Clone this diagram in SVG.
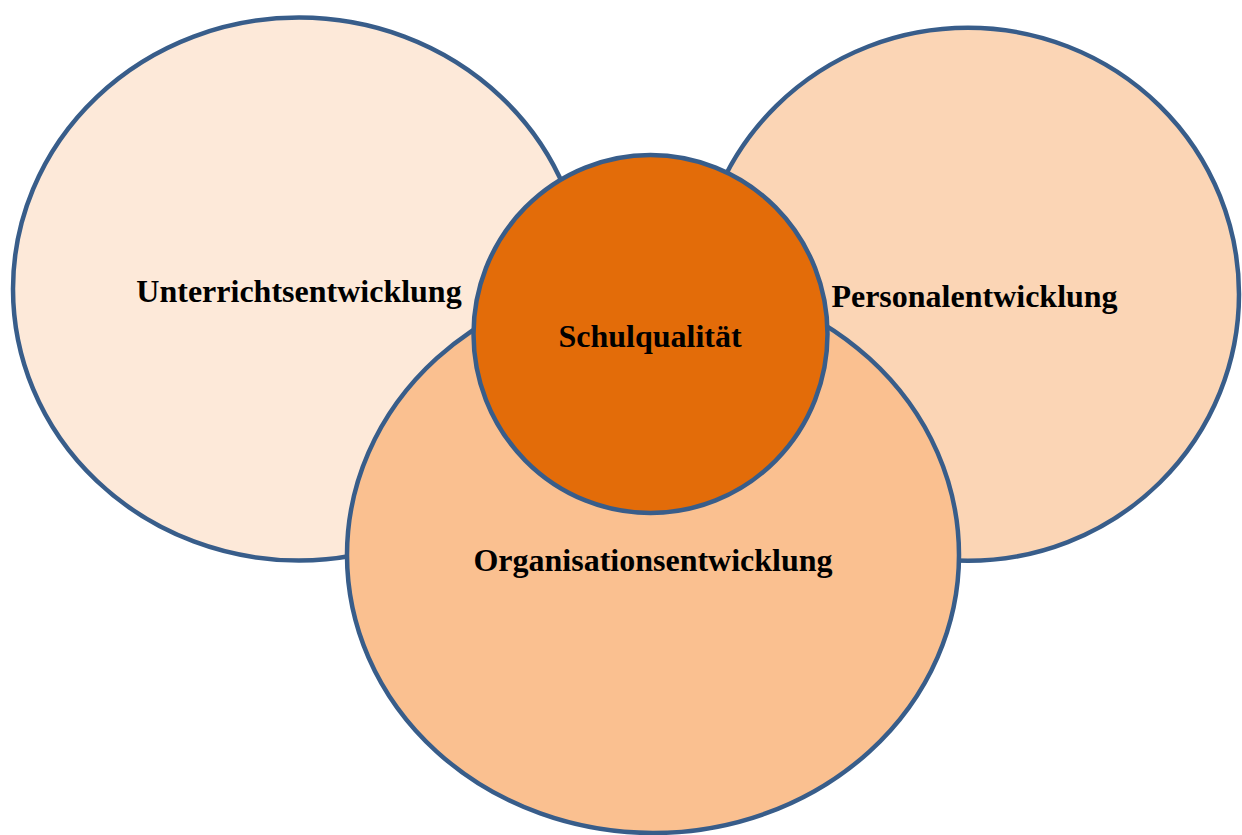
<svg xmlns="http://www.w3.org/2000/svg" width="1242" height="835" viewBox="0 0 1242 835">
  <style>
    .ring { stroke: #385D8A; stroke-width: 4.5; }
    .lbl { font-family: "Liberation Serif", "Times New Roman", serif; font-weight: bold; font-size: 32px; fill: #000; text-anchor: middle; }
  </style>
  <rect width="1242" height="835" fill="#ffffff"/>
  <g id="connectors"></g>
  <g id="unterrichtsentwicklung">
    <ellipse class="ring" cx="299" cy="289" rx="286" ry="271.5" fill="#FDE9D9"/>
    <text class="lbl" x="299" y="302">Unterrichtsentwicklung</text>
  </g>
  <g id="personalentwicklung">
    <ellipse class="ring" cx="968" cy="294.3" rx="271" ry="266.5" fill="#FBD5B5"/>
    <text class="lbl" x="974.5" y="307">Personalentwicklung</text>
  </g>
  <g id="organisationsentwicklung">
    <ellipse class="ring" cx="653" cy="555" rx="306" ry="278" fill="#FAC090"/>
    <text class="lbl" x="653" y="571">Organisationsentwicklung</text>
  </g>
  <g id="schulqualitaet">
    <ellipse class="ring" cx="650.5" cy="334" rx="177" ry="179" fill="#E36C09"/>
    <text class="lbl" x="650" y="347">Schulqualität</text>
  </g>
</svg>
